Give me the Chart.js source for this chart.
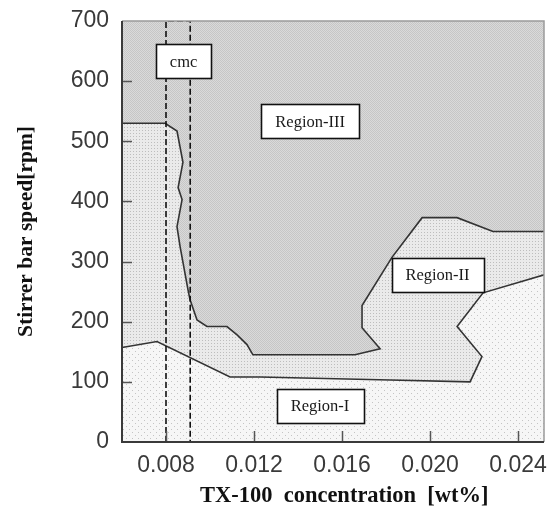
<!DOCTYPE html>
<html>
<head>
<meta charset="utf-8">
<script src="https://cdn.jsdelivr.net/npm/chart.js@4/dist/chart.umd.min.js"></script>
<style>
  html, body { margin: 0; padding: 0; background: #ffffff; }
  #wrap { width: 549px; height: 507px; }
</style>
</head>
<body>
<div id="wrap"><canvas id="c" width="549" height="507"></canvas></div>
<script>
// ---------------- data ----------------
const X_MIN = 0.006, X_MAX = 0.02518;
const Y_MIN = 0, Y_MAX = 700;
const X_TICKS = [0.008, 0.012, 0.016, 0.020, 0.024];
const X_TICK_LABELS = ['0.008', '0.012', '0.016', '0.020', '0.024'];
const Y_TICKS = [0, 100, 200, 300, 400, 500, 600, 700];
const Y_TICK_LABELS = ['0', '100', '200', '300', '400', '500', '600', '700'];

// Region-III / Region-II boundary
const UPPER_X = [0.006, 0.00796, 0.0085, 0.00877, 0.00855, 0.00873, 0.0085, 0.00864, 0.0090, 0.00909, 0.00941, 0.00986, 0.01077, 0.01123, 0.01168, 0.01195, 0.01659, 0.01773, 0.01691, 0.01691, 0.01827, 0.01964, 0.02123, 0.02286, 0.0252];
const UPPER_Y = [530, 530, 517, 465, 423, 403, 358, 325, 253, 237, 203, 192, 192, 178, 162, 145, 145, 155, 190, 227, 307, 373, 373, 350, 350];

// Region-II / Region-I boundary
const LOWER_X = [0.006, 0.00759, 0.01091, 0.01227, 0.01818, 0.02182, 0.02236, 0.02123, 0.02241, 0.0252];
const LOWER_Y = [157, 167, 108, 108, 103, 100, 142, 192, 248, 278];

// cmc band
const CMC_X = [0.0080, 0.0091];

// annotations
const ANNOT_TEXT = ['cmc', 'Region-III', 'Region-II', 'Region-I'];
const ANNOT_X = [0.0088, 0.01455, 0.02034, 0.0150];
const ANNOT_Y = [633, 533, 278, 60];

// ---------------- helpers ----------------
const pts = (xs, ys) => xs.map((x, i) => ({x: x, y: ys[i]}));
const upperPts = pts(UPPER_X, UPPER_Y);
const lowerPts = pts(LOWER_X, LOWER_Y);
const regionIPoly = [{x: X_MIN, y: Y_MIN}, {x: X_MAX, y: Y_MIN}, {x: X_MAX, y: Y_MAX}, {x: X_MIN, y: Y_MAX}];
const regionIIPoly = lowerPts.concat([{x: X_MAX + 0.0002, y: Y_MAX}, {x: X_MIN, y: Y_MAX}]);
const regionIIIPoly = upperPts.concat([{x: X_MAX + 0.0002, y: Y_MAX}, {x: X_MIN, y: Y_MAX}]);
const cmcPts = [{x: CMC_X[0], y: Y_MIN}, {x: CMC_X[0], y: Y_MAX}, {x: CMC_X[1], y: Y_MAX}, {x: CMC_X[1], y: Y_MIN}];

function makePattern(size, base, dot, dots) {
  const c = document.createElement('canvas');
  c.width = size; c.height = size;
  const g = c.getContext('2d');
  g.fillStyle = base; g.fillRect(0, 0, size, size);
  g.fillStyle = dot;
  dots.forEach(d => g.fillRect(d[0], d[1], 1, 1));
  return g.createPattern(c, 'repeat');
}
const patI = makePattern(6, '#f6f6f6', '#c4c4c4', [[0, 0], [3, 3]]);
const patII = makePattern(3, '#eaeaea', '#bdbdbd', [[1, 1]]);
const patIII = makePattern(2, '#dadada', '#c6c6c6', [[0, 0], [1, 1]]);

const frameAndTicks = {
  id: 'frameAndTicks',
  afterDatasetsDraw(chart) {
    const {ctx, chartArea: a, scales: {x, y}} = chart;
    ctx.save();
    // inner tick marks
    ctx.strokeStyle = '#555555';
    ctx.lineWidth = 1.5;
    y.ticks.forEach(t => {
      const py = Math.round(y.getPixelForValue(t.value)) + 0.5;
      if (t.value === Y_MIN || t.value === Y_MAX) return;
      ctx.beginPath(); ctx.moveTo(a.left, py); ctx.lineTo(a.left + 10, py); ctx.stroke();
    });
    x.ticks.forEach(t => {
      const px = Math.round(x.getPixelForValue(t.value)) + 0.5;
      ctx.beginPath(); ctx.moveTo(px, a.bottom); ctx.lineTo(px, a.bottom - 11); ctx.stroke();
    });
    // annotation boxes
    ctx.font = '16.5px "Liberation Serif", "Times New Roman", serif';
    ctx.textAlign = 'center';
    ctx.textBaseline = 'middle';
    ANNOT_TEXT.forEach((txt, i) => {
      const cx = x.getPixelForValue(ANNOT_X[i]);
      const cy = y.getPixelForValue(ANNOT_Y[i]);
      const w = Math.round(ctx.measureText(txt).width + 28);
      const h = 34;
      const l = Math.round(cx - w / 2) + 0.5, t = Math.round(cy - h / 2) + 0.5;
      ctx.fillStyle = '#ffffff';
      ctx.fillRect(l, t, w, h);
      ctx.strokeStyle = '#111111';
      ctx.lineWidth = 1.6;
      ctx.strokeRect(l, t, w, h);
      ctx.fillStyle = '#1a1a1a';
      ctx.fillText(txt, cx, cy + 1);
    });
    // frame
    ctx.lineWidth = 1.5;
    ctx.strokeStyle = '#9a9a9a';
    ctx.beginPath();
    ctx.moveTo(a.left, a.top); ctx.lineTo(a.right, a.top); ctx.lineTo(a.right, a.bottom);
    ctx.stroke();
    ctx.lineWidth = 2;
    ctx.strokeStyle = '#3a3a3a';
    ctx.beginPath();
    ctx.moveTo(a.left, a.top); ctx.lineTo(a.left, a.bottom); ctx.lineTo(a.right, a.bottom);
    ctx.stroke();
    ctx.restore();
  }
};

const poly = (data, pat, order) => ({
  data: data, backgroundColor: pat, borderWidth: 0, borderColor: 'rgba(0,0,0,0)',
  fill: 'shape', pointRadius: 0, order: order
});

new Chart(document.getElementById('c'), {
  type: 'line',
  data: {
    datasets: [
      poly(regionIPoly, patI, 10),
      poly(regionIIPoly, patII, 9),
      poly(regionIIIPoly, patIII, 8),
      {data: upperPts, borderColor: '#333333', borderWidth: 1.6, fill: false, pointRadius: 0, order: 5},
      {data: lowerPts, borderColor: '#333333', borderWidth: 1.6, fill: false, pointRadius: 0, order: 5},
      {data: cmcPts, borderColor: '#111111', borderWidth: 1.6, borderDash: [6, 3], fill: false, pointRadius: 0, order: 4}
    ]
  },
  options: {
    responsive: false,
    animation: false,
    devicePixelRatio: 1,
    layout: {padding: {top: 21, right: 5, left: 0, bottom: 0}},
    plugins: {legend: {display: false}, tooltip: {enabled: false}},
    elements: {line: {tension: 0}},
    scales: {
      x: {
        type: 'linear', min: X_MIN, max: X_MAX,
        afterFit: s => { s.height = 65; s.paddingLeft = 0; s.paddingRight = 0; },
        afterBuildTicks: s => { s.ticks = X_TICKS.map(v => ({value: v})); },
        grid: {display: false, drawTicks: false},
        border: {display: false},
        ticks: {
          padding: 10, maxRotation: 0, autoSkip: false,
          color: '#3a3a3a',
          font: {family: '"Liberation Sans", Arial, sans-serif', size: 23},
          callback: (v, i) => X_TICK_LABELS[i]
        },
        title: {
          display: true, text: '    TX-100  concentration  [wt%]',
          color: '#111111',
          font: {family: '"Liberation Serif", "Times New Roman", serif', size: 22.5, weight: 'bold', lineHeight: 1},
          padding: {top: 0, bottom: 0}
        }
      },
      y: {
        type: 'linear', min: Y_MIN, max: Y_MAX,
        afterFit: s => { s.width = 122; s.paddingTop = 0; s.paddingBottom = 0; },
        afterBuildTicks: s => { s.ticks = Y_TICKS.map(v => ({value: v})); },
        grid: {display: false, drawTicks: false},
        border: {display: false},
        ticks: {
          padding: 13, autoSkip: false,
          color: '#3a3a3a',
          font: {family: '"Liberation Sans", Arial, sans-serif', size: 23},
          callback: (v, i) => Y_TICK_LABELS[i]
        },
        title: {
          display: true, text: 'Stirrer bar speed[rpm]',
          color: '#111111',
          font: {family: '"Liberation Serif", "Times New Roman", serif', size: 21.5, weight: 'bold', lineHeight: 1},
          padding: {top: 16, bottom: 0}
        }
      }
    }
  },
  plugins: [frameAndTicks]
});
</script>
</body>
</html>
